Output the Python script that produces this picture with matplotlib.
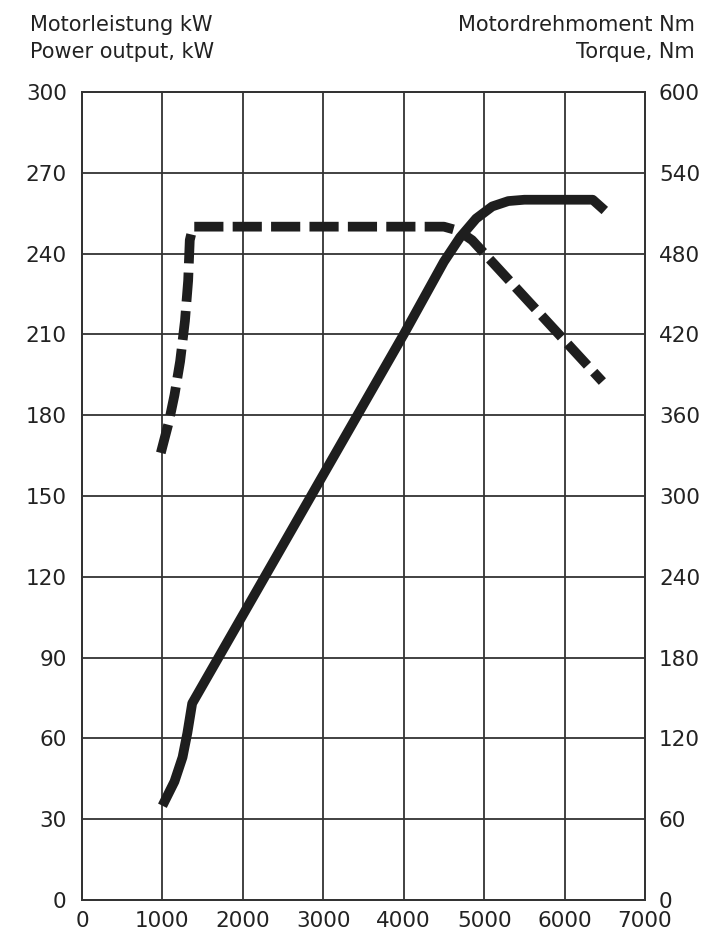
import matplotlib
matplotlib.use("Agg")
import matplotlib.pyplot as plt
from matplotlib import font_manager

# data
rpm_power = [1000, 1150, 1250, 1310, 1370, 4000, 4500, 4700, 4900, 5100, 5300, 5500, 6350, 6500]
power_kw = [35, 44, 53, 62, 73, 210, 237, 246, 253, 257.5, 259.5, 260, 260, 256]

rpm_torque = [980, 1080, 1150, 1220, 1280, 1320, 1340, 1380, 1450, 4500, 4680, 4850, 6470]
torque_nm = [332, 355, 375, 400, 430, 460, 490, 500, 500, 500, 497, 490, 385]

x_ticks = [0, 1000, 2000, 3000, 4000, 5000, 6000, 7000]
left_ticks = [0, 30, 60, 90, 120, 150, 180, 210, 240, 270, 300]
right_ticks = [0, 60, 120, 180, 240, 300, 360, 420, 480, 540, 600]

names = {f.name for f in font_manager.fontManager.ttflist}
fam = 'Liberation Sans Narrow' if 'Liberation Sans Narrow' in names else 'DejaVu Sans'
plt.rcParams['font.family'] = [fam, 'DejaVu Sans']

grid_col = '#333333'
line_col = '#1e1e1e'

fig = plt.figure(figsize=(7.2, 9.46), dpi=100)
ax = fig.add_axes([82/720, 46/946, 563/720, 808/946])
ax2 = ax.twinx()

ax.set_xlim(0, 7000)
ax.set_ylim(0, 300)
ax2.set_ylim(0, 600)
ax.set_xticks(x_ticks)
ax.set_yticks(left_ticks)
ax2.set_yticks(right_ticks)
ax.grid(True, color=grid_col, linewidth=1.3)
ax.set_axisbelow(True)

for a in (ax, ax2):
    for s in a.spines.values():
        s.set_color(grid_col)
        s.set_linewidth(1.3)
    a.tick_params(length=0, labelsize=15.5, colors='#222222')
ax.tick_params(axis='y', pad=11)
ax.tick_params(axis='x', pad=8)
ax2.tick_params(axis='y', pad=10)

ax.plot(rpm_power, power_kw, color=line_col, linewidth=7,
        solid_joinstyle='round', solid_capstyle='butt', zorder=3)
ax2.plot(rpm_torque, torque_nm, color=line_col, linewidth=7,
         linestyle=(0, (3.0, 0.95)), dash_capstyle='butt',
         dash_joinstyle='round', zorder=3)

fig.text(30/720, 1 - 25/946, 'Motorleistung kW', fontsize=15, va='center', ha='left', color='#222222')
fig.text(30/720, 1 - 52/946, 'Power output, kW', fontsize=15, va='center', ha='left', color='#222222')
fig.text(695/720, 1 - 25/946, 'Motordrehmoment Nm', fontsize=15, va='center', ha='right', color='#222222')
fig.text(695/720, 1 - 52/946, 'Torque, Nm', fontsize=15, va='center', ha='right', color='#222222')

fig.savefig('out.png', dpi=100, facecolor='white')
